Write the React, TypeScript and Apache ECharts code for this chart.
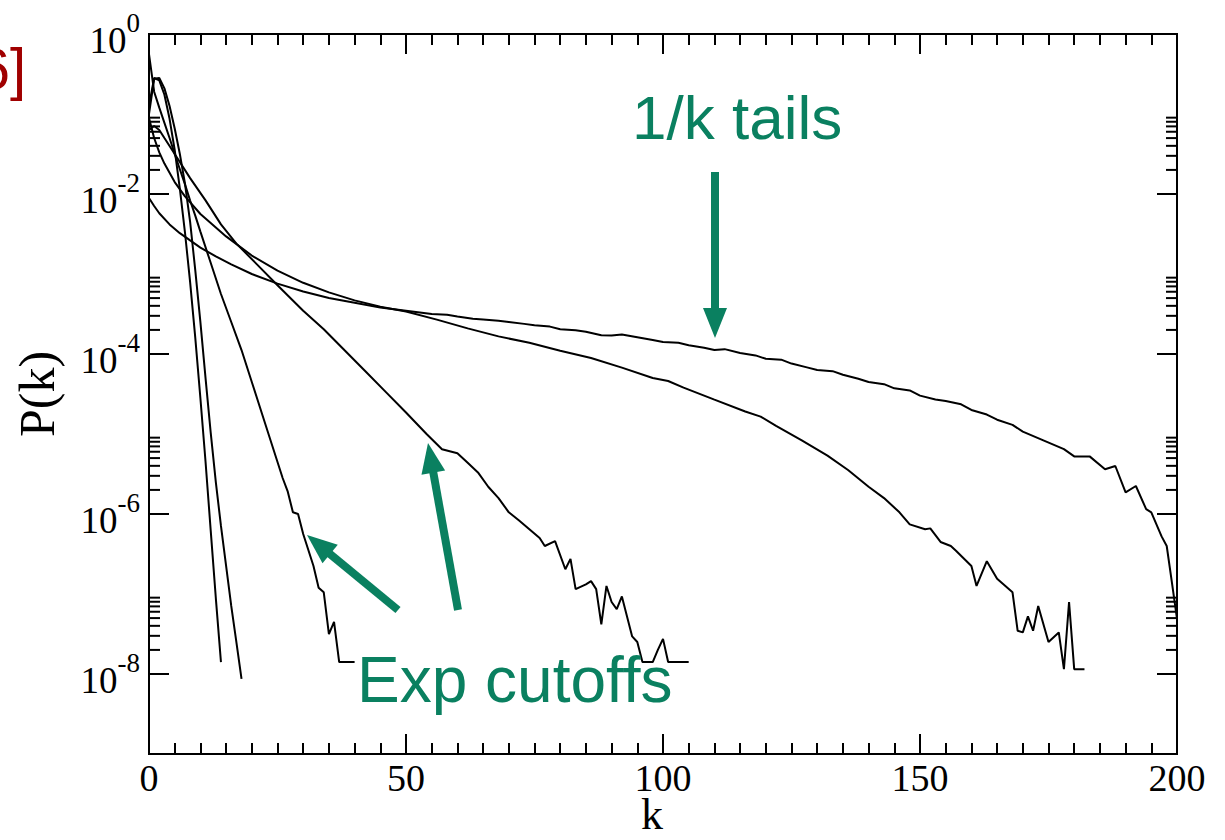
import React, { useEffect, useRef } from 'react';
import * as echarts from 'echarts';

// ---- data ----
const K_A = [0, 1, 2, 3, 4, 5, 6, 7, 8, 9, 10, 11, 12, 13, 14];
const P_A = [0.126, 0.282, 0.263, 0.174, 0.0871, 0.0355, 0.0117, 3.3e-3, 7.9e-4, 1.6e-4, 2.8e-5, 4.5e-6, 6.3e-7, 8.9e-8, 1.41e-8];

const K_B = [0, 1, 2, 3, 4, 5, 6, 7, 8, 9, 10, 11, 12, 13, 14, 15, 16, 17, 18];
const P_B = [0.1, 0.275, 0.282, 0.209, 0.126, 0.066, 0.0316, 0.0135, 4.47e-3, 1.12e-3, 2.5e-4, 5.0e-5, 1.05e-5, 2.5e-6, 7.1e-7, 2.24e-7, 7.1e-8, 2.5e-8, 8.7e-9];

const K_C = [0, 1, 2, 3, 4, 5, 6, 7, 8, 9, 10, 12, 14, 16, 18, 20, 22, 24, 25, 26, 27, 28, 29, 30, 31, 32, 33, 34, 35, 36, 37, 38, 40];
const P_C = [0.562, 0.19, 0.12, 0.0776, 0.0501, 0.0316, 0.0204, 0.0132, 8.3e-3, 5.37e-3, 3.39e-3, 1.38e-3, 5.62e-4, 2.51e-4, 1.12e-4, 4.47e-5, 1.78e-5, 7.08e-6, 4.47e-6, 2.82e-6, 1.9e-6, 1.05e-6, 1.0e-6, 5.62e-7, 3.55e-7, 2.24e-7, 1.2e-7, 1.05e-7, 3.16e-8, 4.47e-8, 1.41e-8, 1.41e-8, 1.41e-8];

const K_D = [0, 1, 2, 3, 5, 8, 11, 14, 17, 21, 25, 30, 34, 38, 42, 46, 50, 54, 57, 60, 62, 64, 66, 68, 70, 72, 74, 76, 77, 79, 81, 82, 83, 85, 86, 87, 88, 89, 90, 91, 92, 94, 95, 96, 97, 98, 99, 100, 101, 103, 105];
const P_D = [0.0631, 0.0708, 0.0631, 0.0501, 0.0316, 0.0158, 8.32e-3, 4.17e-3, 2.4e-3, 1.32e-3, 7.24e-4, 3.47e-4, 2.04e-4, 1.12e-4, 6.17e-5, 3.39e-5, 1.86e-5, 1.0e-5, 6.46e-6, 5.75e-6, 4.37e-6, 3.31e-6, 2.19e-6, 1.58e-6, 1.05e-6, 8.3e-7, 6.46e-7, 5.01e-7, 3.98e-7, 4.57e-7, 2.04e-7, 2.75e-7, 1.15e-7, 1.32e-7, 1.45e-7, 1.15e-7, 4.17e-8, 1.26e-7, 7.94e-8, 6.46e-8, 9.33e-8, 2.95e-8, 2.51e-8, 1.41e-8, 1.41e-8, 1.41e-8, 2.0e-8, 2.75e-8, 1.41e-8, 1.41e-8, 1.41e-8];

const K_E = [0, 1, 2, 3, 5, 7, 10, 15, 20, 25, 30, 35, 40, 45, 50, 56, 62, 68, 74, 80, 86, 92, 98, 101, 104, 110, 116, 119, 122, 127, 132, 136, 140, 143, 146, 148, 151, 152, 154, 156, 157, 160, 161, 163, 165, 168, 169, 170, 171, 172, 173, 175, 177, 178, 179, 180, 182];
const P_E = [0.0891, 0.0501, 0.0331, 0.024, 0.0141, 9.33e-3, 5.62e-3, 2.95e-3, 1.7e-3, 1.1e-3, 7.76e-4, 5.89e-4, 4.68e-4, 3.89e-4, 3.39e-4, 2.69e-4, 2.09e-4, 1.66e-4, 1.38e-4, 1.1e-4, 8.91e-5, 6.76e-5, 5.01e-5, 4.6e-5, 3.8e-5, 2.69e-5, 1.91e-5, 1.65e-5, 1.26e-5, 8.32e-6, 5.37e-6, 3.55e-6, 2.19e-6, 1.58e-6, 1.05e-6, 7.41e-7, 6.46e-7, 6.61e-7, 4.47e-7, 3.98e-7, 3.47e-7, 2.24e-7, 1.26e-7, 2.57e-7, 1.55e-7, 1.05e-7, 3.47e-8, 3.31e-8, 5.25e-8, 3.47e-8, 7.08e-8, 2.51e-8, 3.31e-8, 1.15e-8, 7.94e-8, 1.15e-8, 1.15e-8];

const K_F = [0, 1, 2, 4, 6, 8, 10, 13, 16, 20, 25, 30, 35, 40, 45, 50, 55, 58, 60, 63, 65, 68, 70, 73, 75, 78, 80, 83, 85, 88, 90, 92, 95, 98, 100, 103, 105, 108, 110, 112, 115, 118, 120, 123, 125, 128, 130, 133, 135, 138, 140, 143, 145, 148, 150, 153, 155, 158, 160, 163, 165, 168, 170, 174, 178, 180, 183, 186, 188, 190, 192, 194, 195, 197, 198, 199, 200];
const P_F = [8.91e-3, 7.08e-3, 5.75e-3, 4.17e-3, 3.24e-3, 2.63e-3, 2.14e-3, 1.66e-3, 1.32e-3, 1.0e-3, 7.59e-4, 6.03e-4, 5.01e-4, 4.37e-4, 3.8e-4, 3.47e-4, 3.16e-4, 3.1e-4, 2.95e-4, 2.75e-4, 2.69e-4, 2.6e-4, 2.51e-4, 2.38e-4, 2.29e-4, 2.2e-4, 2.04e-4, 1.98e-4, 1.9e-4, 1.72e-4, 1.7e-4, 1.75e-4, 1.62e-4, 1.5e-4, 1.41e-4, 1.38e-4, 1.29e-4, 1.2e-4, 1.12e-4, 1.15e-4, 1.03e-4, 9.6e-5, 8.71e-5, 8.5e-5, 7.59e-5, 6.8e-5, 6.31e-5, 6.1e-5, 5.5e-5, 4.9e-5, 4.47e-5, 4.2e-5, 3.72e-5, 3.5e-5, 3.02e-5, 2.7e-5, 2.58e-5, 2.35e-5, 2.0e-5, 1.75e-5, 1.51e-5, 1.3e-5, 1.07e-5, 8.32e-6, 6.46e-6, 5.25e-6, 5.25e-6, 3.63e-6, 3.98e-6, 1.86e-6, 2.24e-6, 1.15e-6, 1.05e-6, 5.25e-7, 3.98e-7, 1.41e-7, 4.9e-8];

const CURVES = [
  [K_A, P_A],
  [K_B, P_B],
  [K_C, P_C],
  [K_D, P_D],
  [K_E, P_E],
  [K_F, P_F],
];

const X_MIN = 0;
const X_MAX = 200;
const Y_MIN = 1e-9;
const Y_MAX = 1;
const Y_MAJOR = [1, 1e-2, 1e-4, 1e-6, 1e-8];
const Y_MINOR_MULT = [2, 3, 4, 5, 6, 7, 8, 9];

const SERIF = '"Liberation Serif", "Times New Roman", serif';
const SANS = '"Liberation Sans", Arial, sans-serif';
const GREEN = '#0a8060';

export default function App() {
  const ref = useRef<HTMLDivElement>(null);

  useEffect(() => {
    if (!ref.current) return;
    const chart = echarts.init(ref.current, null, { renderer: 'svg' });

    const tickData: number[][] = [];
    Y_MAJOR.forEach((m) => {
      tickData.push([0, m, 1]);
      Y_MINOR_MULT.forEach((f) => {
        const v = m * f;
        if (v < Y_MAX) tickData.push([0, v, 0]);
      });
    });

    const lineSeries = CURVES.map(([ks, ps]) => ({
      type: 'line',
      symbol: 'none',
      showSymbol: false,
      silent: true,
      z: 3,
      lineStyle: { color: '#000', width: 2 },
      data: ks.map((k, i) => [k, ps[i]]),
    }));

    const arrow = (x1: number, y1: number, x2: number, y2: number) => {
      const dx = x2 - x1;
      const dy = y2 - y1;
      const len = Math.sqrt(dx * dx + dy * dy);
      const ux = dx / len;
      const uy = dy / len;
      const headLen = 30;
      const halfW = 12;
      const bx = x2 - ux * headLen;
      const by = y2 - uy * headLen;
      return [
        {
          type: 'line',
          shape: { x1, y1, x2: bx + ux * 2, y2: by + uy * 2 },
          style: { stroke: GREEN, lineWidth: 8 },
          z: 10,
        },
        {
          type: 'polygon',
          shape: {
            points: [
              [x2, y2],
              [bx - uy * halfW, by + ux * halfW],
              [bx + uy * halfW, by - ux * halfW],
            ],
          },
          style: { fill: GREEN },
          z: 10,
        },
      ];
    };

    const option: any = {
      animation: false,
      backgroundColor: '#fff',
      grid: {
        left: 149,
        top: 34,
        width: 1028,
        height: 720,
        show: true,
        borderColor: '#000',
        borderWidth: 2,
        backgroundColor: 'transparent',
        containLabel: false,
        outerBoundsMode: 'none',
      },
      xAxis: [
        {
          type: 'value',
          min: X_MIN,
          max: X_MAX,
          interval: 50,
          name: 'k',
          nameLocation: 'middle',
          nameGap: 40,
          nameMoveOverlap: false,
          nameTextStyle: { fontFamily: SERIF, fontSize: 44, lineHeight: 40, color: '#000', padding: [0, 22, 0, 0] },
          axisLine: { show: true, lineStyle: { color: '#000', width: 2 } },
          axisTick: { show: true, inside: true, length: 20, lineStyle: { color: '#000', width: 2 } },
          minorTick: { show: true, splitNumber: 10, length: 11, lineStyle: { color: '#000', width: 2 } },
          splitLine: { show: false },
          axisLabel: { fontFamily: SERIF, fontSize: 38, lineHeight: 38, color: '#000', margin: 5 },
        },
        {
          type: 'value',
          position: 'top',
          min: X_MIN,
          max: X_MAX,
          interval: 50,
          axisLine: { show: true, lineStyle: { color: '#000', width: 2 } },
          axisTick: { show: true, inside: true, length: 20, lineStyle: { color: '#000', width: 2 } },
          minorTick: { show: true, splitNumber: 10, length: 11, lineStyle: { color: '#000', width: 2 } },
          splitLine: { show: false },
          axisLabel: { show: false },
        },
      ],
      yAxis: [
        {
          type: 'log',
          logBase: 10,
          min: Y_MIN,
          max: Y_MAX,
          name: 'P(k)',
          nameLocation: 'middle',
          nameRotate: 90,
          nameGap: 87,
          nameMoveOverlap: false,
          nameTextStyle: { fontFamily: SERIF, fontSize: 50, color: '#000' },
          axisLine: { show: true, lineStyle: { color: '#000', width: 2 } },
          axisTick: { show: false },
          splitLine: { show: false },
          axisLabel: {
            margin: 9,
            formatter: (v: number) => {
              const e = Math.round(Math.log10(v));
              if (e % 2 !== 0) return '';
              return '{b|10}{s|' + String(e) + '}';
            },
            rich: {
              b: { fontFamily: SERIF, fontSize: 37, color: '#000', lineHeight: 50, verticalAlign: 'bottom' },
              s: { fontFamily: SERIF, fontSize: 27, color: '#000', lineHeight: 28, verticalAlign: 'top' },
            },
          },
        },
      ],
      series: [
        {
          type: 'custom',
          silent: true,
          z: 2,
          data: tickData,
          renderItem: (_params: any, api: any) => {
            const v = api.value(1);
            const len = api.value(2) === 1 ? 20 : 11;
            const l = api.coord([X_MIN, v]);
            const r = api.coord([X_MAX, v]);
            return {
              type: 'group',
              children: [
                { type: 'line', shape: { x1: l[0], y1: l[1], x2: l[0] + len, y2: l[1] }, style: { stroke: '#000', lineWidth: 2 } },
                { type: 'line', shape: { x1: r[0], y1: r[1], x2: r[0] - len, y2: r[1] }, style: { stroke: '#000', lineWidth: 2 } },
              ],
            };
          },
        },
        ...lineSeries,
      ],
      graphic: [
        {
          type: 'text',
          x: 26,
          y: 68,
          z: 10,
          style: { text: '6]', fontFamily: SANS, fontSize: 58, fill: '#a00000', align: 'right', verticalAlign: 'middle' },
        },
        {
          type: 'text',
          x: 632,
          y: 117,
          z: 10,
          style: { text: '1/k tails', fontFamily: SANS, fontSize: 62, fill: GREEN, align: 'left', verticalAlign: 'middle' },
        },
        {
          type: 'text',
          x: 357,
          y: 680,
          z: 10,
          style: { text: 'Exp cutoffs', fontFamily: SANS, fontSize: 64, fill: GREEN, align: 'left', verticalAlign: 'middle' },
        },
        ...arrow(715, 172, 715, 338),
        ...arrow(458, 610, 428, 443),
        ...arrow(398, 610, 307, 535),
      ],
    };

    chart.setOption(option);
    return () => chart.dispose();
  }, []);

  return (
    <div
      ref={ref}
      style={{ position: 'fixed', left: 0, top: 0, width: 1225, height: 840, background: '#fff' }}
    />
  );
}
